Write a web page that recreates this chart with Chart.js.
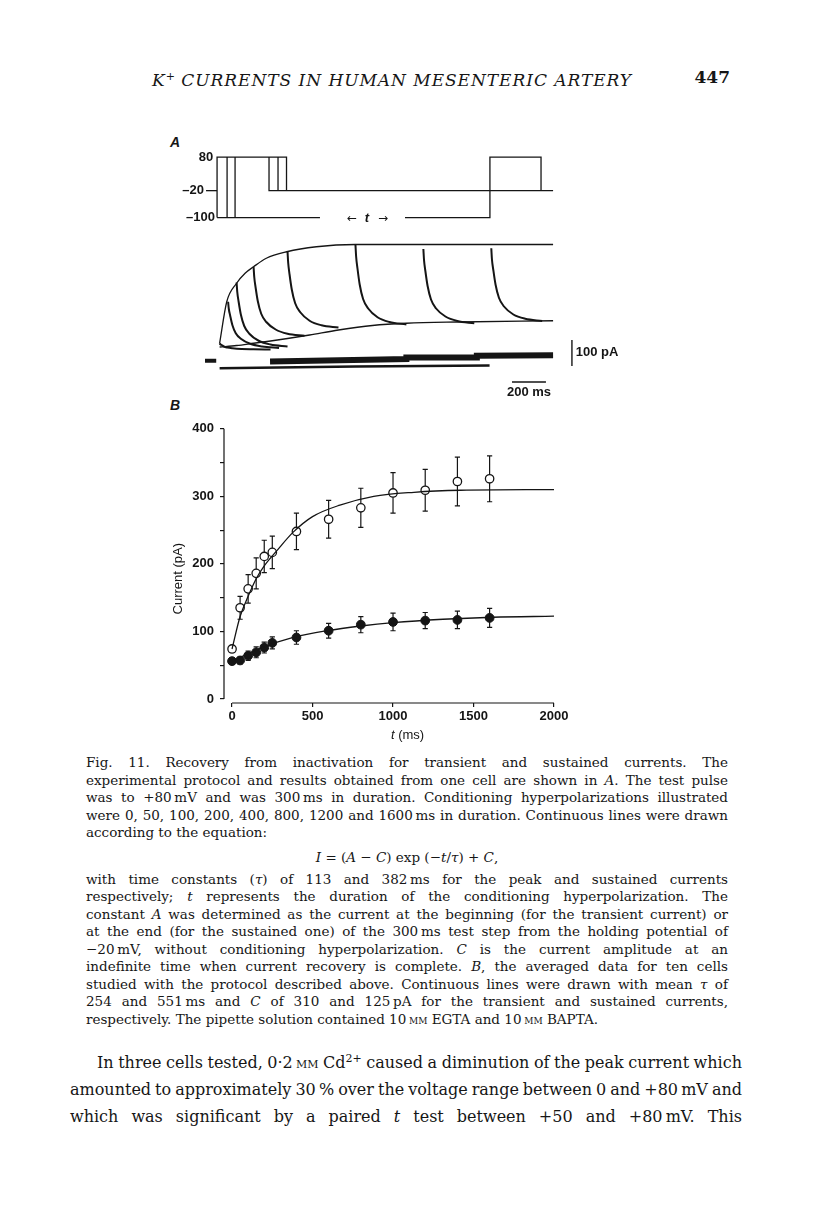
<!DOCTYPE html>
<html>
<head>
<meta charset="utf-8">
<title>Fig. 11 – Recovery from inactivation</title>
<script src="https://cdn.jsdelivr.net/npm/chart.js@4.4.1/dist/chart.umd.min.js"></script>
<style>
  html, body { margin: 0; padding: 0; background: #fff; }
  body { position: relative; width: 816px; height: 1208px; overflow: hidden;
         font-family: "DejaVu Serif", "Liberation Serif", serif; color: #161616; }
  .abs { position: absolute; }
  #hdr { left: 152px; top: 64px; font-size: 17px; font-style: italic; white-space: nowrap; line-height: 26px; }
  #hdr sup { font-size: 11px; vertical-align: 6px; letter-spacing: 0; }
  #pg { left: 680px; width: 50px; text-align: right; top: 64px; font-size: 17px; font-weight: bold; line-height: 26px; }
  .panel { font-family: "Liberation Sans", Arial, sans-serif; font-style: italic; font-weight: bold; font-size: 14px; line-height: 16px; }
  #cap { left: 86px; top: 754px; width: 642px; font-size: 13.5px; line-height: 17.5px; }
  #body { left: 70px; top: 1048.5px; width: 672px; font-size: 16px; line-height: 27px; }
  .j, .l { white-space: nowrap; }
  .eq { text-align: center; margin: 7px 0 4.5px; }
  .ind { padding-left: 27px; }
  .sc { font-variant: small-caps; }
  canvas { position: absolute; }
</style>
</head>
<body>

<div id="hdr" class="abs">K<sup>+</sup> CURRENTS IN HUMAN MESENTERIC ARTERY</div>
<div id="pg" class="abs">447</div>

<div class="abs panel" style="left:170px; top:134px;">A</div>
<div class="abs panel" style="left:170px; top:397px;">B</div>

<canvas id="chartA" width="480" height="290" style="left:150px; top:110px;"></canvas>
<canvas id="chartB" width="430" height="335" style="left:150px; top:415px;"></canvas>

<div id="cap" class="abs">
  <div class="j"><span>Fig. 11. Recovery from inactivation for transient and sustained currents. The</span></div>
  <div class="j"><span>experimental protocol and results obtained from one cell are shown in <i>A</i>. The test pulse</span></div>
  <div class="j"><span>was to +80&#8201;mV and was 300&#8201;ms in duration. Conditioning hyperpolarizations illustrated</span></div>
  <div class="j"><span>were 0, 50, 100, 200, 400, 800, 1200 and 1600&#8201;ms in duration. Continuous lines were drawn</span></div>
  <div class="l"><span>according to the equation:</span></div>
  <div class="eq"><i>I</i> = (<i>A</i> &minus; <i>C</i>) exp (&minus;<i>t</i>/<i>&tau;</i>) + <i>C</i>,</div>
  <div class="j"><span>with time constants (<i>&tau;</i>) of 113 and 382&#8201;ms for the peak and sustained currents</span></div>
  <div class="j"><span>respectively; <i>t</i> represents the duration of the conditioning hyperpolarization. The</span></div>
  <div class="j"><span>constant <i>A</i> was determined as the current at the beginning (for the transient current) or</span></div>
  <div class="j"><span>at the end (for the sustained one) of the 300&#8201;ms test step from the holding potential of</span></div>
  <div class="j"><span>&minus;20&#8201;mV, without conditioning hyperpolarization. <i>C</i> is the current amplitude at an</span></div>
  <div class="j"><span>indefinite time when current recovery is complete. <i>B</i>, the averaged data for ten cells</span></div>
  <div class="j"><span>studied with the protocol described above. Continuous lines were drawn with mean <i>&tau;</i> of</span></div>
  <div class="j"><span>254 and 551&#8201;ms and <i>C</i> of 310 and 125&#8201;pA for the transient and sustained currents,</span></div>
  <div class="l"><span>respectively. The pipette solution contained 10&#8201;<span class="sc">mm</span> EGTA and 10&#8201;<span class="sc">mm</span> BAPTA.</span></div>
</div>

<div id="body" class="abs">
  <div class="j ind"><span>In three cells tested, 0&middot;2&#8201;<span class="sc">mm</span> Cd<sup style="font-size:11px;line-height:0">2+</sup> caused a diminution of the peak current which</span></div>
  <div class="j"><span>amounted to approximately 30&#8201;% over the voltage range between 0 and +80&#8201;mV and</span></div>
  <div class="j"><span>which was significant by a paired <i>t</i> test between +50 and +80&#8201;mV. This</span></div>
</div>

<script>
// ---- Panel B: averaged data, ten cells ----
const tMs      = [0, 50, 100, 150, 200, 250, 400, 600, 800, 1000, 1200, 1400, 1600];
const peakPA   = [74, 135, 163, 186, 211, 217, 248, 266, 283, 305, 309, 322, 326];
const peakErr  = [5, 17, 21, 23, 24, 24, 27, 28, 29, 30, 31, 36, 34];
const sustPA   = [56, 57, 64, 69, 76, 83, 91, 101, 110, 114, 116, 117, 120];
const sustErr  = [5, 5, 7, 8, 8, 9, 10, 11, 12, 13, 12, 13, 14];

// continuous (fitted) lines
const peakFitT = [0, 50, 100, 150, 200, 280, 380, 500, 670, 880, 1130, 1420, 2000];
const peakFitI = [74, 122, 152, 178, 197, 220, 247, 270, 287, 300, 306, 309, 310];
const sustFitT = [0, 80, 175, 380, 590, 800, 1000, 1310, 1620, 2000];
const sustFitI = [56, 65, 75, 91, 101, 108, 113, 118, 121, 122.5];

const xTicksB = [0, 500, 1000, 1500, 2000];
const yTicksB = [0, 50, 100, 150, 200, 250, 300, 350, 400];

// ---- Panel A: protocol (ms, mV) and current records (ms, pA) from one cell ----
const holdDash   = [[-80, -20], [-15, -20]];
const pulseBox   = [[-15, -100], [-15, 80], [394, 80], [394, -20]];
const pulseUp44  = [[44, -100], [44, 80]];
const pulseUp91  = [[91, -100], [91, 80]];
const pulseDn291 = [[291, 80], [291, -20], [1964, -20]];
const pulseDn344 = [[344, 80], [344, -20]];
const condLeft   = [[-15, -100], [591, -100]];
const condRight  = [[1092, -100], [1592, -100], [1592, 80], [1893, 80], [1893, -20]];

const peakFitA = [[0, 75], [42, 241], [100, 315], [150, 355], [200, 381], [275, 415], [395, 441], [570, 461], [800, 470], [1964, 470]];
const sustFitA = [[0, 60], [100, 66], [200, 75], [300, 84], [400, 94], [530, 108], [700, 128], [900, 146], [1100, 155], [1400, 160], [1964, 165]];

const sweep0    = [[0, 75], [4, 71], [12, 68], [25, 62], [45, 58], [75, 55], [130, 52], [200, 51], [300, 50]];
const sweep50   = [[50, 241], [54, 213], [62, 186], [75, 148], [95, 115], [125, 93], [180, 73], [250, 62], [350, 56]];
const sweep100  = [[100, 318], [104, 280], [112, 241], [125, 190], [145, 144], [175, 113], [230, 85], [300, 70], [400, 62]];
const sweep200  = [[200, 381], [204, 340], [212, 298], [225, 243], [245, 193], [275, 160], [330, 130], [400, 113], [500, 105]];
const sweep400  = [[400, 441], [404, 396], [412, 350], [425, 290], [445, 235], [475, 199], [530, 165], [600, 147], [700, 138]];
const sweep800  = [[800, 470], [804, 422], [812, 374], [825, 310], [845, 252], [875, 214], [930, 179], [1000, 160], [1100, 150]];
const sweep1200 = [[1200, 452], [1204, 407], [1212, 363], [1225, 304], [1245, 250], [1275, 214], [1330, 182], [1400, 164], [1500, 155]];
const sweep1600 = [[1600, 455], [1604, 410], [1612, 368], [1625, 310], [1645, 257], [1675, 222], [1730, 190], [1800, 173], [1900, 164]];

const baseStub = [[-86, 5], [-20, 5]];
const baseLow  = [[0, -25], [800, -18], [1590, -14]];
const baseHigh = [[297, 2], [950, 10], [1100, 12], [1100, 18], [1515, 18], [1515, 25], [1964, 27]];

const barPA = [[2075, -16], [2075, 88]];
const barMs = [[1722, -80], [1922, -80]];

Chart.defaults.font.family = '"Liberation Sans", Arial, sans-serif';
Chart.defaults.color = '#111';
const INK = '#151515';

function pts(pairs) { return pairs.map(p => ({ x: p[0], y: p[1] })); }
function zip(xs, ys) { return xs.map((x, i) => ({ x: x, y: ys[i] })); }

function path(pairs, axis, width, smooth) {
  return {
    data: pts(pairs), yAxisID: axis, showLine: true, pointRadius: 0,
    borderColor: INK, borderWidth: width, fill: false,
    cubicInterpolationMode: smooth ? 'monotone' : 'default', tension: 0
  };
}

// text labels in panel A, placed through the chart's scales
const labelsA = {
  id: 'labelsA',
  afterDraw(chart) {
    const { ctx, scales } = chart;
    const x = scales.x, yv = scales.yv, yi = scales.yi;
    ctx.save();
    ctx.fillStyle = INK;
    ctx.textBaseline = 'middle';
    ctx.font = 'bold 13px "Liberation Sans", Arial, sans-serif';
    ctx.textAlign = 'right';
    ctx.fillText('80', x.getPixelForValue(-38), yv.getPixelForValue(80));
    ctx.fillText('\u201320', x.getPixelForValue(-92), yv.getPixelForValue(-20));
    ctx.fillText('\u2013100', x.getPixelForValue(-27), yv.getPixelForValue(-100));
    ctx.textAlign = 'left';
    ctx.fillText('100 pA', x.getPixelForValue(2097), yi.getPixelForValue(37));
    ctx.textAlign = 'center';
    ctx.fillText('200 ms', x.getPixelForValue(1822), yi.getPixelForValue(-120));
    // "<- t ->" under the conditioning step
    const yy = yv.getPixelForValue(-100) + 1;
    ctx.font = '12px "DejaVu Sans", sans-serif';
    ctx.fillText('\u2190', x.getPixelForValue(780), yy);
    ctx.fillText('\u2192', x.getPixelForValue(962), yy);
    ctx.font = 'italic bold 13px "Liberation Sans", Arial, sans-serif';
    ctx.fillText('t', x.getPixelForValue(868), yy);
    ctx.restore();
  }
};

new Chart(document.getElementById('chartA'), {
  type: 'scatter',
  data: {
    datasets: [
      path(holdDash, 'yv', 1.3), path(pulseBox, 'yv', 1.3), path(pulseUp44, 'yv', 1.3),
      path(pulseUp91, 'yv', 1.3), path(pulseDn291, 'yv', 1.3), path(pulseDn344, 'yv', 1.3),
      path(condLeft, 'yv', 1.3), path(condRight, 'yv', 1.3),
      path(baseStub, 'yi', 4), path(baseLow, 'yi', 2.5), path(baseHigh, 'yi', 6),
      path(peakFitA, 'yi', 1.3, true), path(sustFitA, 'yi', 1.3, true),
      path(sweep0, 'yi', 2, true), path(sweep50, 'yi', 2, true), path(sweep100, 'yi', 2, true),
      path(sweep200, 'yi', 2, true), path(sweep400, 'yi', 2, true), path(sweep800, 'yi', 2, true),
      path(sweep1200, 'yi', 2, true), path(sweep1600, 'yi', 2, true),
      path(barPA, 'yi', 1.4), path(barMs, 'yi', 1.4)
    ]
  },
  options: {
    responsive: false, animation: false,
    layout: { padding: 0 },
    plugins: { legend: { display: false }, tooltip: { enabled: false } },
    scales: {
      x:  { type: 'linear', min: -410, max: 2417, display: false },
      yv: { type: 'linear', min: -643, max: 220, display: false },
      yi: { type: 'linear', min: -152, max: 1008, display: false }
    }
  },
  plugins: [labelsA]
});

// error bars drawn under the markers
const errBars = {
  id: 'errBars',
  beforeDatasetsDraw(chart) {
    const { ctx, scales: { x, y } } = chart;
    ctx.save();
    ctx.strokeStyle = INK;
    ctx.lineWidth = 1.2;
    chart.data.datasets.forEach(ds => {
      if (!ds.err) return;
      ds.data.forEach((p, i) => {
        const px = x.getPixelForValue(p.x);
        const top = y.getPixelForValue(p.y + ds.err[i]);
        const bot = y.getPixelForValue(p.y - ds.err[i]);
        ctx.beginPath();
        ctx.moveTo(px, top); ctx.lineTo(px, bot);
        ctx.moveTo(px - 2.6, top); ctx.lineTo(px + 2.6, top);
        ctx.moveTo(px - 2.6, bot); ctx.lineTo(px + 2.6, bot);
        ctx.stroke();
      });
    });
    ctx.restore();
  }
};

// detached axis lines and the axis titles
const axesB = {
  id: 'axesB',
  afterDraw(chart) {
    const { ctx, chartArea, scales: { x, y } } = chart;
    ctx.save();
    ctx.strokeStyle = INK;
    ctx.lineWidth = 1.2;
    ctx.beginPath();
    ctx.moveTo(chartArea.left, y.getPixelForValue(0));
    ctx.lineTo(chartArea.left, y.getPixelForValue(400));
    ctx.moveTo(x.getPixelForValue(0), chartArea.bottom);
    ctx.lineTo(x.getPixelForValue(2000), chartArea.bottom);
    ctx.stroke();

    ctx.fillStyle = INK;
    ctx.textBaseline = 'middle';
    ctx.font = '13px "Liberation Sans", Arial, sans-serif';
    ctx.save();
    ctx.translate(chartArea.left - 46, y.getPixelForValue(178));
    ctx.rotate(-Math.PI / 2);
    ctx.textAlign = 'center';
    ctx.fillText('Current (pA)', 0, 0);
    ctx.restore();

    const rest = ' (ms)';
    ctx.font = 'italic 13px "Liberation Sans", Arial, sans-serif';
    const wt = ctx.measureText('t').width;
    ctx.font = '13px "Liberation Sans", Arial, sans-serif';
    const wr = ctx.measureText(rest).width;
    const cx = x.getPixelForValue(1090);
    const ty = chartArea.bottom + 32;
    ctx.textAlign = 'left';
    ctx.font = 'italic 13px "Liberation Sans", Arial, sans-serif';
    ctx.fillText('t', cx - (wt + wr) / 2, ty);
    ctx.font = '13px "Liberation Sans", Arial, sans-serif';
    ctx.fillText(rest, cx - (wt + wr) / 2 + wt, ty);
    ctx.restore();
  }
};

new Chart(document.getElementById('chartB'), {
  type: 'scatter',
  data: {
    datasets: [
      { data: zip(peakFitT, peakFitI), showLine: true, pointRadius: 0, borderColor: INK,
        borderWidth: 1.3, cubicInterpolationMode: 'monotone' },
      { data: zip(sustFitT, sustFitI), showLine: true, pointRadius: 0, borderColor: INK,
        borderWidth: 1.3, cubicInterpolationMode: 'monotone' },
      { data: zip(tMs, peakPA), err: peakErr, pointRadius: 4.2, pointBorderWidth: 1.3,
        pointBackgroundColor: '#fff', pointBorderColor: INK },
      { data: zip(tMs, sustPA), err: sustErr, pointRadius: 4.4, pointBorderWidth: 1,
        pointBackgroundColor: INK, pointBorderColor: INK }
    ]
  },
  options: {
    responsive: false, animation: false,
    layout: { padding: { left: 20, top: 13, right: 26, bottom: 0 } },
    plugins: { legend: { display: false }, tooltip: { enabled: false } },
    scales: {
      x: {
        type: 'linear', min: -50, max: 2000,
        afterBuildTicks: s => { s.ticks = xTicksB.map(v => ({ value: v })); },
        afterFit: s => { s.height = 47; },
        border: { display: false },
        grid: { drawOnChartArea: false, drawTicks: true, tickLength: 4, color: INK, lineWidth: 1.2 },
        ticks: { font: { size: 13, weight: 'bold' }, color: INK, padding: 2, maxRotation: 0, autoSkip: false,
                 callback: v => String(v) }
      },
      y: {
        type: 'linear', min: -6, max: 400,
        afterBuildTicks: s => { s.ticks = yTicksB.map(v => ({ value: v })); },
        afterFit: s => { s.width = 54; },
        border: { display: false },
        grid: { drawOnChartArea: false, drawTicks: true, tickLength: 4, color: INK, lineWidth: 1.2 },
        ticks: { font: { size: 13, weight: 'bold' }, color: INK, padding: 6, autoSkip: false,
                 callback: v => (v % 100 === 0 ? String(v) : '') }
      }
    }
  },
  plugins: [errBars, axesB]
});

// justify each printed line to its column width, and stretch the running head
function justifyLines() {
  document.querySelectorAll('.j').forEach(el => {
    const span = el.firstElementChild;
    span.style.wordSpacing = '0px';
    const pad = parseFloat(getComputedStyle(el).paddingLeft) || 0;
    const target = el.clientWidth - pad;
    const natural = span.getBoundingClientRect().width;
    const gaps = (span.textContent.match(/[ \u00a0]/g) || []).length;
    if (gaps > 0) span.style.wordSpacing = ((target - natural) / gaps) + 'px';
  });
  const hdr = document.getElementById('hdr');
  hdr.style.letterSpacing = '0px';
  const w = hdr.getBoundingClientRect().width;
  hdr.style.letterSpacing = ((481 - w) / hdr.textContent.length) + 'px';
}
justifyLines();
if (document.fonts && document.fonts.ready) document.fonts.ready.then(justifyLines);
</script>
</body>
</html>
